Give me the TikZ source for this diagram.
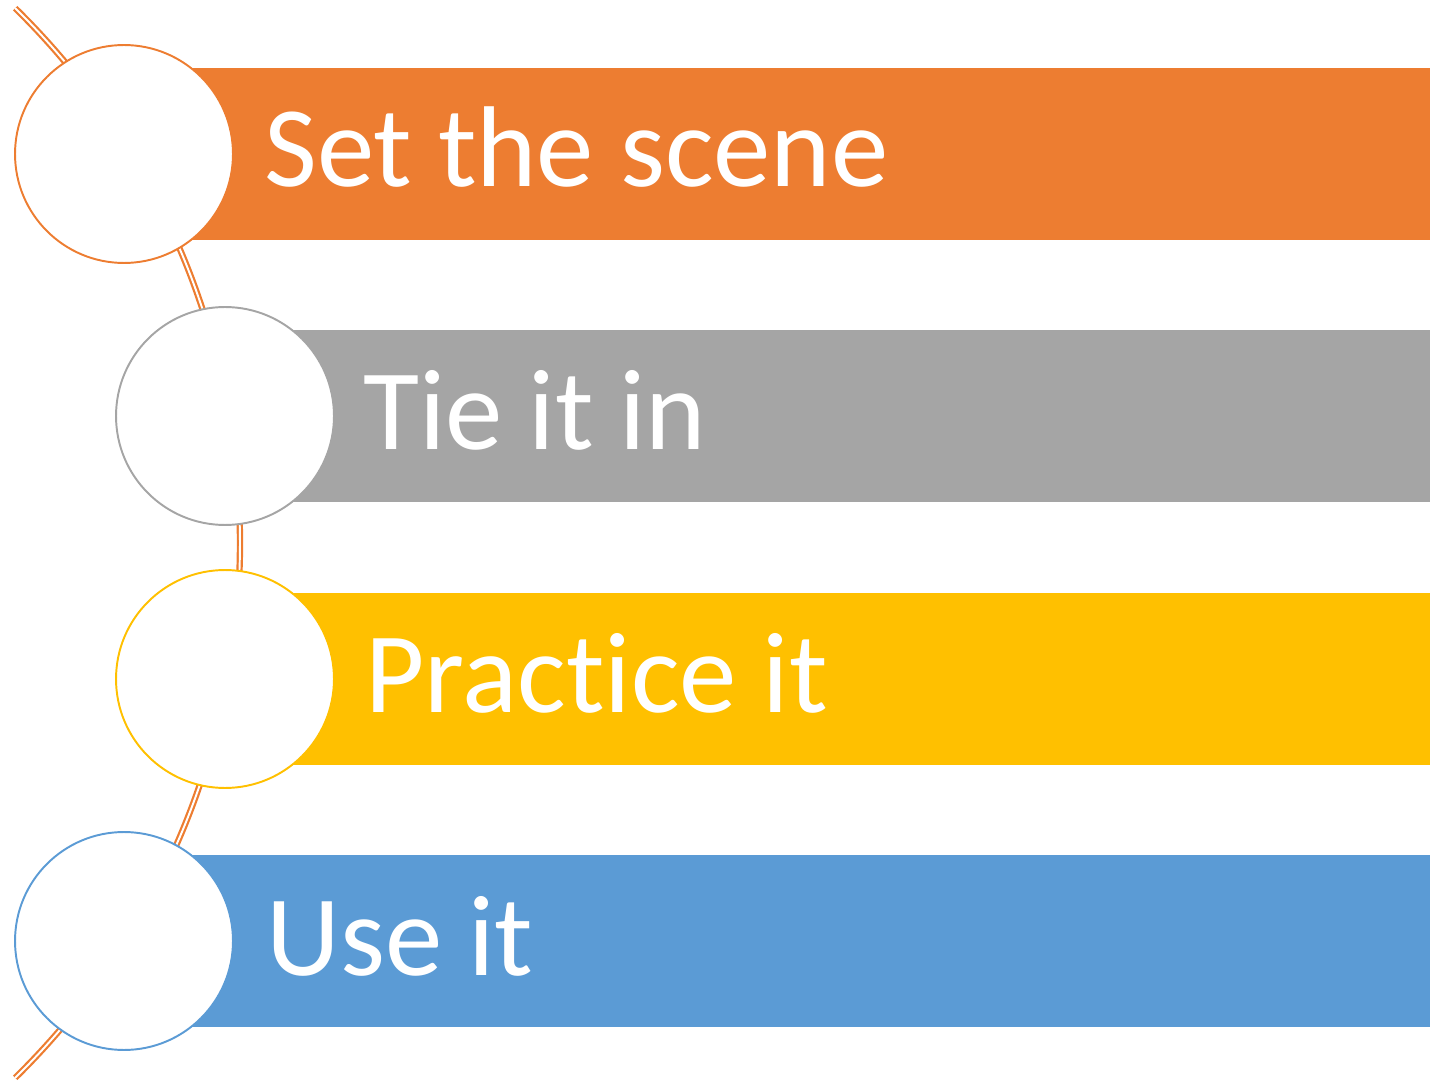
\documentclass[tikz,border=0pt]{standalone}
\usepackage{fontspec}
\setmainfont[Ligatures=NoCommon]{Carlito}
\usepackage{tikz}
\usetikzlibrary{positioning}

\definecolor{stageorange}{HTML}{ED7D31}
\definecolor{stagegray}{HTML}{A5A5A5}
\definecolor{stagegold}{HTML}{FFC000}
\definecolor{stageblue}{HTML}{5B9BD5}

\tikzset{
  bar/.style   = {rectangle, anchor=west, inner sep=0, minimum width=26.12cm, minimum height=3.44cm},
  bullet/.style= {circle, fill=white, line width=1.1pt, inner sep=0, minimum size=4.36cm},
  caption/.style = {anchor=base west, inner sep=0, text=white, font=\fontsize{65.4}{66}\selectfont},
}

\begin{document}
\begin{tikzpicture} [x=0.02cm, y=-0.02cm]
    \useasboundingbox (0,0) rectangle (1430,1087);

    % the double line behind the circles
    \coordinate (hub) at (-508.6,543);
    \draw [stageorange, line width=1.25pt, double=white, double distance=1.1pt]
        (hub) ++(-45.6:748.6) arc [start angle=-45.6, end angle=45.6, radius=748.6];

    \node (b1) [bar, fill=stageorange] at (124,154) {};
    \node (b2) [bar, fill=stagegray]   at (225,416) {};
    \node (b3) [bar, fill=stagegold]   at (225,679) {};
    \node (b4) [bar, fill=stageblue]   at (124,941) {};

    \node (c1) [bullet, draw=stageorange] at (124,154) {};
    \node (c2) [bullet, draw=stagegray]   at (225,416) {};
    \node (c3) [bullet, draw=stagegold]   at (225,679) {};
    \node (c4) [bullet, draw=stageblue]   at (124,941) {};

    \node (t1) [caption] at (264,187) {Set the scene};
    \node (t2) [caption] at (363,450) {Tie it in};
    \node (t3) [caption] at (365,712) {Practice it};
    \node (t4) [caption] at (266,975) {Use it};
\end{tikzpicture}
\end{document}
